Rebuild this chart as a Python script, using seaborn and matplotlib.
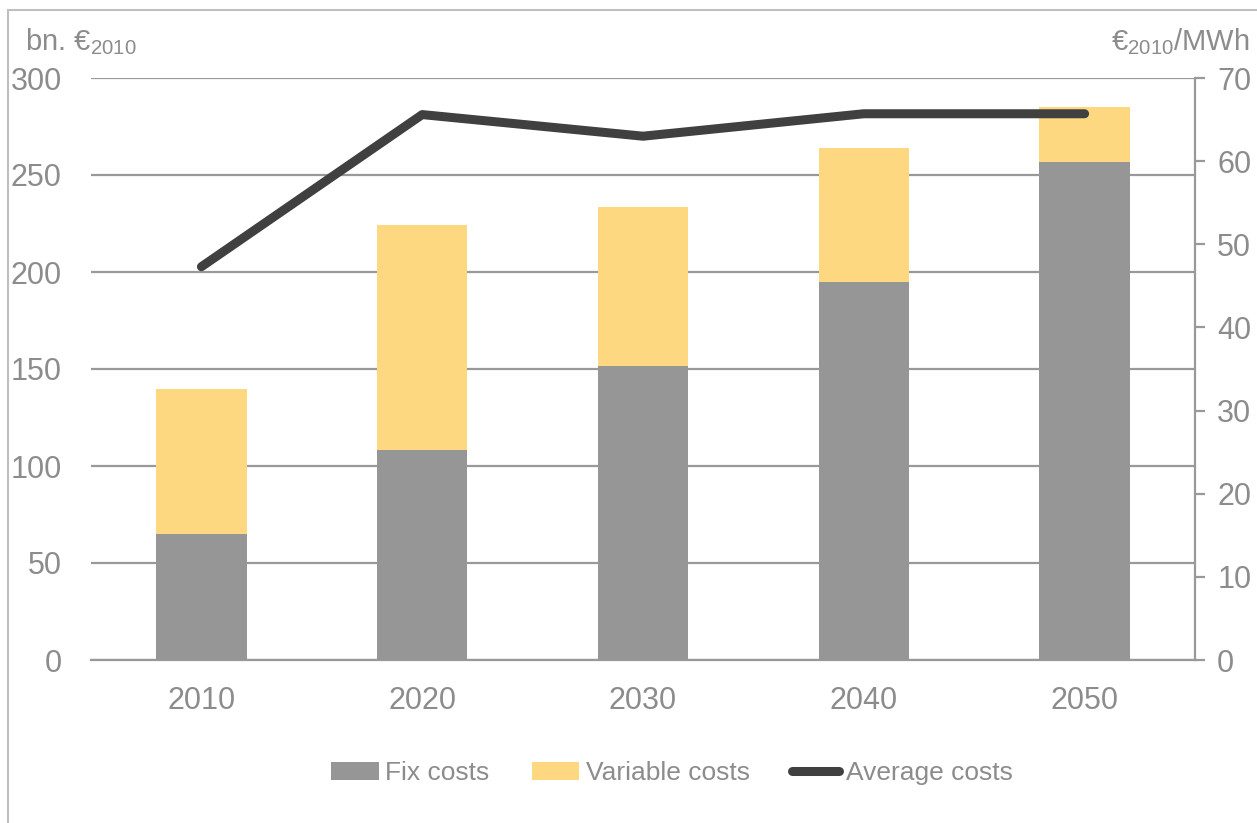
import numpy as np
import pandas as pd
import matplotlib
matplotlib.use("Agg")
import matplotlib.pyplot as plt
from matplotlib.patches import Patch, Rectangle
from matplotlib.lines import Line2D
import seaborn as sns

# Data
years = ["2010", "2020", "2030", "2040", "2050"]
fix_costs = [65, 108, 151.5, 195, 256.5]
variable_costs = [74.5, 116, 82, 69, 28.5]
average_costs = [47.3, 65.6, 63.0, 65.7, 65.7]

total_costs = [f + v for f, v in zip(fix_costs, variable_costs)]
df = pd.DataFrame({"year": years, "fix": fix_costs, "total": total_costs, "avg": average_costs})

sns.set_theme(style="white")
plt.rcParams["font.family"] = ["Liberation Sans", "DejaVu Sans"]
plt.rcParams["mathtext.fontset"] = "custom"
plt.rcParams["mathtext.rm"] = "Liberation Sans"

GREY_TXT = "#8c8c8c"
AXIS = "#999999"
FIX_C = "#969696"
VAR_C = "#FED880"
LINE_C = "#404040"

fig = plt.figure(figsize=(12.57, 8.23), dpi=100)
ax = fig.add_axes([91 / 1257, 1 - 660 / 823, (1195 - 91) / 1257, (660 - 78) / 823])

# stacked bars: total (variable on top) then fixed part over it
sns.barplot(data=df, x="year", y="total", color=VAR_C, width=0.41, ax=ax,
            saturation=1, linewidth=0, zorder=2)
sns.barplot(data=df, x="year", y="fix", color=FIX_C, width=0.41, ax=ax,
            saturation=1, linewidth=0, zorder=3)

ax.set_xlim(-0.5, 4.5)
ax.set_ylim(0, 300)
ax.set_yticks(np.arange(0, 301, 50))
ax.yaxis.grid(True, color=AXIS, linewidth=1.6)
ax.set_axisbelow(True)
ax.set_xlabel("")
ax.set_ylabel("")
for s in ["top", "left", "right"]:
    ax.spines[s].set_visible(False)
ax.spines["bottom"].set_color(AXIS)
ax.spines["bottom"].set_linewidth(1.6)
ax.tick_params(axis="y", length=0, pad=21, labelsize=22, labelcolor=GREY_TXT)
ax.tick_params(axis="x", which="major", length=0, pad=19, labelsize=22, labelcolor=GREY_TXT)
ax.set_xticks(np.arange(-0.5, 4.6, 1), minor=True)
ax.tick_params(axis="x", which="minor", length=7, width=1.6, color=AXIS, direction="out")

# secondary axis with the average cost line
ax2 = ax.twinx()
sns.pointplot(data=df, x="year", y="avg", ax=ax2, color=LINE_C, markers="",
              linestyles="-", errorbar=None, linewidth=6.5,
              solid_capstyle="round", zorder=5)
ax2.set_xlim(-0.5, 4.5)
ax2.set_ylim(0, 70)
ax2.set_yticks(np.arange(0, 71, 10))
ax2.set_ylabel("")
ax2.set_xlabel("")
for s in ["top", "left", "bottom"]:
    ax2.spines[s].set_visible(False)
ax2.spines["right"].set_color(AXIS)
ax2.spines["right"].set_linewidth(1.6)
ax2.tick_params(axis="y", right=True, length=7, width=1.6, color=AXIS, direction="out",
                pad=9, labelsize=22, labelcolor=GREY_TXT)
ax2.grid(False)

# unit labels
fig.text(25 / 1257, 1 - 42 / 823, r"bn. €$_\mathregular{2010}$", fontsize=21,
         color=GREY_TXT, va="center", ha="left")
fig.text(1250 / 1257, 1 - 42 / 823, r"€$_\mathregular{2010}$/MWh", fontsize=21,
         color=GREY_TXT, va="center", ha="right")

# legend
handles = [Patch(facecolor=FIX_C, edgecolor="none", label="Fix costs"),
           Patch(facecolor=VAR_C, edgecolor="none", label="Variable costs"),
           Line2D([0], [0], color=LINE_C, linewidth=6.5, solid_capstyle="round",
                  label="Average costs")]
leg = fig.legend(handles=handles, loc="center", ncol=3,
                 bbox_to_anchor=(672 / 1257, 1 - 773 / 823), frameon=False,
                 fontsize=19, handlelength=1.8, handleheight=0.7, handletextpad=0.25,
                 columnspacing=1.6)
for t in leg.get_texts():
    t.set_color(GREY_TXT)

# outer frame
fig.patches.append(Rectangle((8 / 1257, -0.05), 1.2, 1 - 10 / 823 + 0.05,
                             transform=fig.transFigure, fill=False,
                             edgecolor="#bfbfbf", linewidth=1.5))

fig.savefig("out.png", dpi=100)
